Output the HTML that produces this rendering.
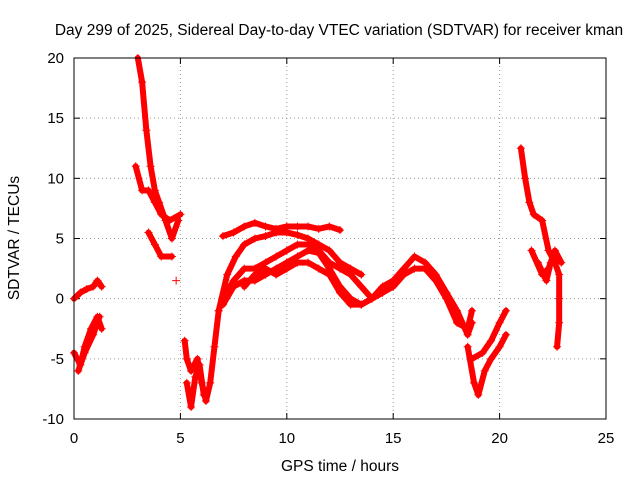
<!DOCTYPE html>
<html><head><meta charset="utf-8"><style>
body{margin:0;background:#fff}
svg{display:block;font-family:"Liberation Sans",sans-serif}
</style></head><body>
<svg id="chart" width="640" height="480">
<text x="339" y="35" text-anchor="middle" font-size="15.5">Day 299 of 2025, Sidereal Day-to-day VTEC variation (SDTVAR) for receiver kman</text>
<g id="grid"></g>
<g id="ticks"></g>
<g id="marks"></g>
<rect x="74" y="58" width="532" height="361" fill="none" stroke="#000"/>
<text x="340" y="471" text-anchor="middle" font-size="15.5">GPS time / hours</text>
<text transform="translate(19,238) rotate(-90)" text-anchor="middle" font-size="15.5">SDTVAR / TECUs</text>
</svg>
<script>
const xTicks=[0,5,10,15,20,25];
const yTicks=[-10,-5,0,5,10,15,20];
const trackEarlyUpper=[[0,0],[0.3,0.5],[0.6,0.8],[0.9,1],[1.1,1.5],[1.3,1]];
const trackEarlyLower=[[0,-4.5],[0.3,-5.5],[0.5,-4],[0.8,-2.5],[1.1,-1.5],[1.3,-2.5]];
const trackEarlyLower2=[[0.2,-6],[0.5,-4.5],[0.9,-3],[1.2,-1.5]];
const trackMorning1=[[3,20],[3.2,18],[3.4,14],[3.6,11],[3.8,9],[4,8],[4.3,6.5],[4.6,5],[4.9,6.5]];
const trackMorning2=[[2.9,11],[3.2,9],[3.5,9],[3.8,8],[4.1,7],[4.5,6.5],[5,7]];
const trackMorning3=[[3.5,5.5],[3.8,4.5],[4.1,3.5],[4.6,3.5]];
const trackLone=[[4.8,1.5]];
const trackDip1=[[5.2,-3.5],[5.3,-5],[5.5,-6],[5.8,-5],[6,-7],[6.2,-8.5],[6.4,-7],[6.6,-4],[6.8,-1]];
const trackDip2=[[5.3,-7],[5.5,-9],[5.7,-6.5],[5.9,-5.5],[6.1,-8]];
const bandA=[[7,5.2],[7.5,5.5],[8,6],[8.5,6.3],[9,6],[9.5,5.8],[10,6],[10.5,6],[11,6],[11.5,5.8],[12,6],[12.5,5.7]];
const bandB=[[6.8,-1],[7.2,2],[7.6,3.5],[8,4.5],[8.5,5],[9,5.2],[9.5,5.5],[10,5.5],[10.5,5.3],[11,5],[11.5,4.5],[12,4],[12.5,3],[13,2.5],[13.5,2]];
const bandC=[[7,0],[7.5,1.5],[8,2.5],[8.5,2.5],[9,3],[9.5,3.5],[10,4],[10.5,4.5],[11,4.5],[11.5,4],[12,3],[12.5,2.5],[13,2],[13.5,1],[14,0],[14.5,0.5],[15,1.5],[15.5,2.5],[16,3.5],[16.5,3],[17,2],[17.5,0.5],[18,-1],[18.5,-3],[18.7,-2]];
const bandD=[[7,-0.5],[7.5,1],[8,1.5],[8.5,1.5],[9,2],[9.5,2.5],[10,3],[10.5,3.5],[11,4],[11.5,3.8],[12,2.5],[12.5,1],[13,0],[13.5,-0.5],[14,0],[14.5,0.5],[15,1],[15.5,2],[16,2.5],[16.5,2.5],[17,1.5],[17.5,0],[18,-2],[18.5,-2.5],[18.7,-1]];
const bandE=[[8,1],[8.5,2],[9,2.5],[9.5,2],[10,2.5],[10.5,3],[11,3],[11.5,2.5],[12,2],[12.5,0.5],[13,-0.5],[13.5,-0.5],[14,0],[14.5,1],[15,1.5]];
const trackEvening1=[[18.5,-4],[18.8,-7],[19,-8],[19.3,-6],[19.6,-5],[20,-4],[20.3,-3]];
const trackEvening2=[[18.7,-5],[19.2,-4.5],[19.6,-3.5],[20,-2],[20.3,-1]];
const trackNight1=[[21,12.5],[21.2,10],[21.4,8],[21.6,7],[22,6.5],[22.3,4],[22.6,3],[22.8,2],[22.8,0],[22.8,-2],[22.7,-4]];
const trackNight2=[[21.5,4],[22,2],[22.3,2.5],[22.6,4],[22.9,3]];
const trackNight3=[[21.8,3],[22.2,1.5],[22.4,3]];
const tracks=[trackEarlyUpper,trackEarlyLower,trackEarlyLower2,trackMorning1,trackMorning2,trackMorning3,trackLone,trackDip1,trackDip2,bandA,bandB,bandC,bandD,bandE,trackEvening1,trackEvening2,trackNight1,trackNight2,trackNight3];

const X0=74,X1=606,Y0=419,Y1=58;
const sx=v=>X0+(v-0)/25*(X1-X0);
const sy=v=>Y0-(v+10)/30*(Y0-Y1);
const NS="http://www.w3.org/2000/svg";
const grid=document.getElementById('grid'),ticks=document.getElementById('ticks'),marks=document.getElementById('marks');
function mk(tag,attrs,parent){const e=document.createElementNS(NS,tag);for(const k in attrs)e.setAttribute(k,attrs[k]);parent.appendChild(e);return e;}
xTicks.forEach(t=>{const x=sx(t);
 if(t>0&&t<25){const l=mk('line',{x1:x,x2:x,y1:Y1,y2:Y0,stroke:'#999','stroke-dasharray':'1,3'},grid);
 
 }
 mk('line',{x1:x,x2:x,y1:Y0,y2:Y0-6,stroke:'#000'},ticks);
 mk('line',{x1:x,x2:x,y1:Y1,y2:Y1+6,stroke:'#000'},ticks);
 const tx=mk('text',{x:x,y:Y0+24,'text-anchor':'middle','font-size':'15'},ticks);tx.textContent=t;
 
 });
yTicks.forEach(t=>{const y=sy(t);
 if(t>-10&&t<20){const l=mk('line',{x1:X0,x2:X1,y1:y,y2:y,stroke:'#999','stroke-dasharray':'1,3'},grid);
 
 }
 mk('line',{x1:X0,x2:X0+6,y1:y,y2:y,stroke:'#000'},ticks);
 mk('line',{x1:X1,x2:X1-6,y1:y,y2:y,stroke:'#000'},ticks);
 const tx=mk('text',{x:X0-10,y:y+5,'text-anchor':'end','font-size':'15'},ticks);tx.textContent=t;
 
 });
tracks.forEach(tr=>{
 const g=mk('g',{},marks);
 
 
 if(tr.length>1){mk('polyline',{points:tr.map(p=>sx(p[0])+','+sy(p[1])).join(' '),fill:'none',stroke:'#f00','stroke-width':6,'stroke-linejoin':'round','stroke-linecap':'round'},g);}
 tr.forEach(p=>{const x=sx(p[0]),y=sy(p[1]);
  mk('path',{d:`M${x-4},${y}H${x+4}M${x},${y-4}V${y+4}`,stroke:'#f00','stroke-width':1},g);});
});
</script>
</body></html>
